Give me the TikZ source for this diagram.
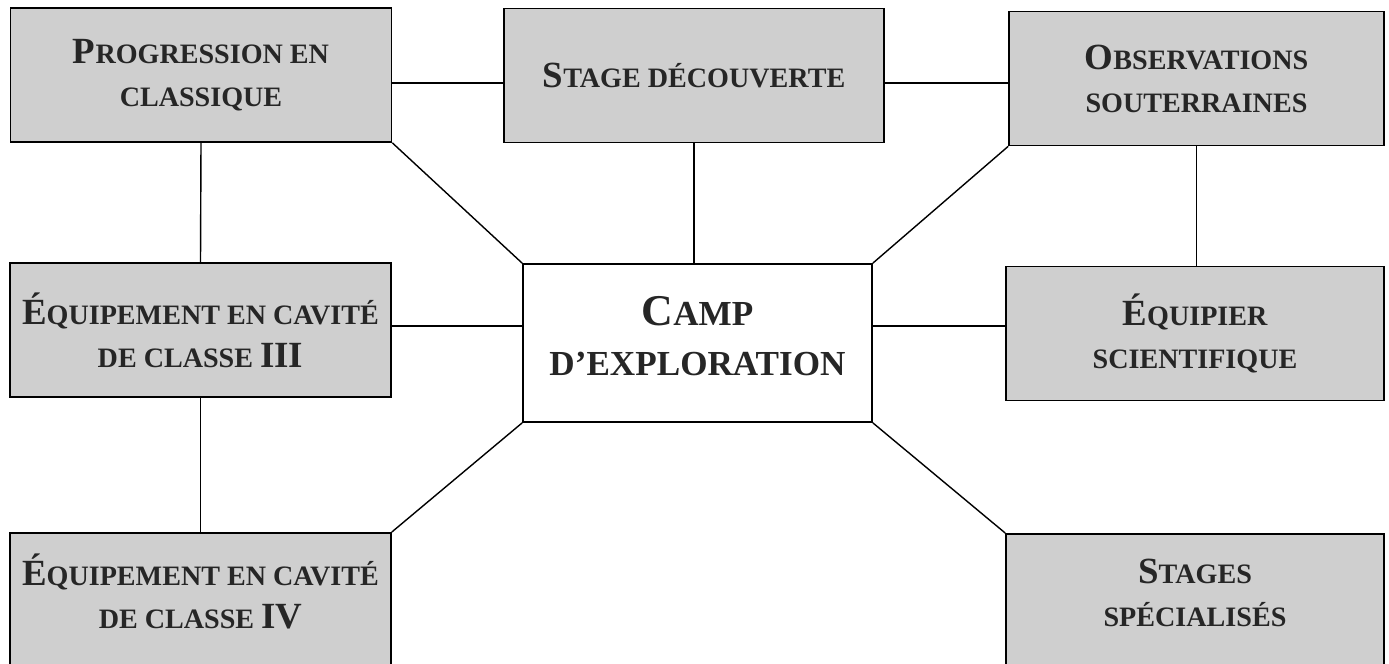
\documentclass[tikz,border=0pt]{standalone}
\usepackage{fontspec}
\setmainfont{Liberation Serif}
\usetikzlibrary{positioning}
\definecolor{Shade}{HTML}{CFCFCF}
\definecolor{Ink}{HTML}{262626}
\newcommand{\Cap}[1]{{\fontsize{21}{24}\selectfont #1}}

\begin{document}
\begin{tikzpicture}[x=0.02cm,y=-0.02cm,
    box/.style={draw,line width=1pt,fill=Shade,text=Ink,align=center,
      font=\fontsize{16}{24.5}\selectfont\bfseries,
      minimum width=7.62cm,minimum height=2.68cm},
    link/.style={line width=0.8pt}]
        \useasboundingbox (0,0) rectangle (1389,663);
        \clip (0,0) rectangle (1389,663);
        % top row
        \node[box] (prog) at (201,75) {\Cap{P}ROGRESSION EN\\CLASSIQUE};
        \node[box,minimum width=7.6cm] (stage) at (694,75.5) {\Cap{S}TAGE DÉCOUVERTE};
        \node[box,minimum width=7.5cm] (obs) at (1196.5,78.5) {\Cap{O}BSERVATIONS\\SOUTERRAINES};
        % middle row
        \node[box] (cav3) at (200.5,330) {\Cap{É}QUIPEMENT EN CAVITÉ\\DE CLASSE \Cap{III}};
        \node[box,fill=white,minimum width=6.98cm,minimum height=3.16cm,
          font=\fontsize{20}{28.5}\selectfont\bfseries] (camp) at (697.5,343)
          {{\fontsize{25}{28}\selectfont C}AMP\\D’EXPLORATION\\[-20pt]\mbox{}};
        \node[box,minimum width=7.56cm] (equip) at (1195,333.5) {\Cap{É}QUIPIER\\SCIENTIFIQUE};
        % bottom row
        \node[box,anchor=north,minimum height=3.2cm] (cav4) at (200.5,532)
          {\Cap{É}QUIPEMENT EN CAVITÉ\\DE CLASSE \Cap{IV}\\\mbox{}};
        \node[box,anchor=north,minimum width=7.56cm,minimum height=3.2cm] (spec) at (1195,533)
          {\Cap{S}TAGES\\SPÉCIALISÉS\\\mbox{}};
        % levels of the horizontal links
        \coordinate (toprow) at (0,83);
        \coordinate (midrow) at (0,326);
        % links
        \draw[link] (prog.east |- toprow) -- (stage.west |- toprow);
        \draw[link] (stage.east |- toprow) -- (obs.west |- toprow);
        \draw[link] (prog.south) -- (cav3.north);
        \draw[link] (cav3.south) -- (cav4.north);
        \draw[link] (stage.south) -- (stage.south |- camp.north);
        \draw[link] (obs.south) -- (obs.south |- equip.north);
        \draw[link] (prog.south east) -- (camp.north west);
        \draw[link] (obs.south west) -- (camp.north east);
        \draw[link] (cav3.east |- midrow) -- (camp.west |- midrow);
        \draw[link] (camp.east |- midrow) -- (equip.west |- midrow);
        \draw[link] (camp.south west) -- (cav4.north east);
        \draw[link] (camp.south east) -- (spec.north west);
      \end{tikzpicture}
\end{document}
